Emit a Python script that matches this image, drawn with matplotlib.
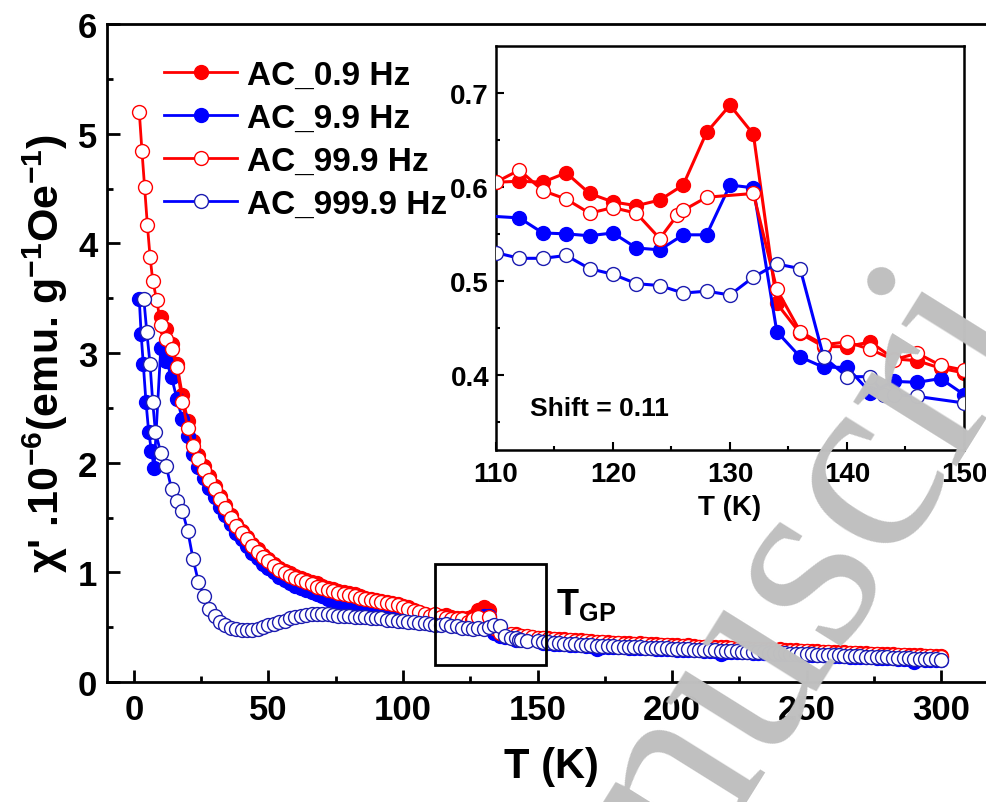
import numpy as np
import matplotlib.pyplot as plt
from matplotlib.patches import Rectangle

plt.rcParams['font.family'] = 'Liberation Sans'
plt.rcParams['font.weight'] = 'bold'
plt.rcParams['axes.labelweight'] = 'bold'
plt.rcParams['mathtext.fontset'] = 'custom'
plt.rcParams['mathtext.rm'] = 'Liberation Sans:bold'
plt.rcParams['mathtext.it'] = 'Liberation Sans:bold'
plt.rcParams['mathtext.bf'] = 'Liberation Sans:bold'

RED = '#ff0000'
BLUE = '#0000ff'
NAVY = '#1c1cb0'

## Data (chi' in 1e-6 emu/g/Oe)
# --- AC 0.9 Hz (filled red)
T_rf_low = np.arange(10, 110, 2)
chi_rf_low = [3.33, 3.22, 3.08, 2.90, 2.62, 2.38, 2.20, 2.07, 1.97, 1.88,
              1.79, 1.70, 1.61, 1.52, 1.44, 1.38, 1.32, 1.26, 1.21, 1.16,
              1.12, 1.08, 1.04, 1.01, 0.99, 0.97, 0.95, 0.93, 0.91, 0.90,
              0.88, 0.86, 0.85, 0.83, 0.82, 0.81, 0.80, 0.78, 0.77, 0.76,
              0.75, 0.74, 0.73, 0.72, 0.71, 0.69, 0.68, 0.66, 0.64, 0.62]
T_rf_mid = np.arange(110, 152, 2)
chi_rf_mid = [0.605, 0.606, 0.605, 0.615, 0.593, 0.584, 0.580, 0.586, 0.602, 0.658,
              0.687, 0.656, 0.476, 0.444, 0.430, 0.430, 0.435, 0.417, 0.415, 0.407,
              0.402]
T_rf_high = np.arange(152, 302, 2)
chi_rf_high = [0.405, 0.400, 0.396, 0.392, 0.388, 0.385, 0.383, 0.380, 0.376, 0.372,
               0.369, 0.366, 0.363, 0.360, 0.357, 0.355, 0.353, 0.351, 0.355, 0.348,
               0.345, 0.343, 0.341, 0.339, 0.337, 0.334, 0.332, 0.336, 0.327, 0.324,
               0.321, 0.319, 0.317, 0.322, 0.315, 0.312, 0.310, 0.308, 0.306, 0.304,
               0.302, 0.300, 0.298, 0.296, 0.298, 0.292, 0.290, 0.288, 0.286, 0.284,
               0.282, 0.280, 0.278, 0.276, 0.274, 0.277, 0.270, 0.268, 0.266, 0.264,
               0.262, 0.260, 0.258, 0.256, 0.254, 0.252, 0.250, 0.248, 0.250, 0.244,
               0.242, 0.240, 0.238, 0.236, 0.234]

# --- AC 9.9 Hz (filled blue)
T_bf_low = np.concatenate([[2, 2.7, 3.5, 4.5, 5.5, 6.5, 7.5], np.arange(10, 110, 2)])
chi_bf_low = [3.49, 3.17, 2.90, 2.55, 2.28, 2.11, 1.95,
              3.05, 2.93, 2.78, 2.58, 2.40, 2.24, 2.08, 1.96, 1.86, 1.77,
              1.69, 1.60, 1.52, 1.44, 1.36, 1.30, 1.24, 1.18, 1.13, 1.08,
              1.04, 1.00, 0.96, 0.93, 0.90, 0.88, 0.86, 0.84, 0.82, 0.80,
              0.78, 0.76, 0.75, 0.73, 0.72, 0.70, 0.69, 0.67, 0.66, 0.65,
              0.64, 0.63, 0.62, 0.61, 0.60, 0.60, 0.59, 0.58, 0.58, 0.57]
T_bf_mid = np.arange(112, 152, 2)
chi_bf_mid = [0.567, 0.551, 0.550, 0.548, 0.551, 0.535, 0.533, 0.549, 0.549, 0.602,
              0.599, 0.446, 0.419, 0.408, 0.408, 0.381, 0.393, 0.392, 0.396, 0.379]
T_bf_high = np.arange(152, 302, 2)
chi_bf_high = [0.360, 0.355, 0.351, 0.347, 0.343, 0.340, 0.337, 0.334, 0.331, 0.328,
               0.300, 0.324, 0.322, 0.320, 0.318, 0.316, 0.314, 0.312, 0.310, 0.308,
               0.306, 0.304, 0.302, 0.300, 0.298, 0.296, 0.294, 0.292, 0.290, 0.288,
               0.286, 0.284, 0.282, 0.255, 0.278, 0.276, 0.274, 0.272, 0.270, 0.268,
               0.266, 0.264, 0.262, 0.260, 0.258, 0.256, 0.254, 0.252, 0.250, 0.248,
               0.246, 0.244, 0.242, 0.240, 0.238, 0.236, 0.234, 0.232, 0.230, 0.228,
               0.226, 0.224, 0.222, 0.220, 0.218, 0.216, 0.214, 0.212, 0.210, 0.185,
               0.206, 0.204, 0.202, 0.200, 0.198]

# --- AC 99.9 Hz (open red)
T_ro_low = np.concatenate([[2, 3, 4, 5, 6, 7, 8.5], np.arange(10, 110, 2)])
chi_ro_low = [5.20, 4.84, 4.51, 4.17, 3.88, 3.66, 3.48,
              3.26, 3.13, 3.04, 2.87, 2.55, 2.32, 2.15, 2.03, 1.93, 1.84,
              1.76, 1.67, 1.59, 1.50, 1.42, 1.36, 1.30, 1.24, 1.19, 1.14,
              1.10, 1.06, 1.02, 0.99, 0.97, 0.95, 0.93, 0.91, 0.89, 0.87,
              0.86, 0.84, 0.83, 0.81, 0.80, 0.79, 0.78, 0.77, 0.76, 0.75,
              0.74, 0.73, 0.72, 0.71, 0.70, 0.68, 0.67, 0.65, 0.64, 0.62]
T_ro_mid = [110, 112, 114, 116, 118, 120, 122, 124, 125.5, 126, 128, 132,
            134, 136, 138, 140, 142, 144, 146, 148, 150]
chi_ro_mid = [0.605, 0.618, 0.596, 0.587, 0.572, 0.578, 0.572, 0.545, 0.570, 0.575, 0.589,
              0.593, 0.491, 0.446, 0.432, 0.435, 0.427, 0.416, 0.423, 0.410, 0.405]
T_ro_high = np.arange(152, 302, 2)
chi_ro_high = [0.400, 0.396, 0.391, 0.387, 0.383, 0.380, 0.377, 0.374, 0.371, 0.368,
               0.365, 0.362, 0.359, 0.356, 0.354, 0.351, 0.349, 0.347, 0.345, 0.343,
               0.341, 0.339, 0.337, 0.335, 0.333, 0.330, 0.327, 0.325, 0.322, 0.319,
               0.317, 0.315, 0.313, 0.311, 0.309, 0.307, 0.305, 0.303, 0.301, 0.299,
               0.297, 0.295, 0.293, 0.291, 0.289, 0.287, 0.285, 0.283, 0.281, 0.279,
               0.277, 0.275, 0.273, 0.271, 0.269, 0.267, 0.265, 0.263, 0.261, 0.259,
               0.257, 0.255, 0.253, 0.251, 0.249, 0.247, 0.245, 0.243, 0.241, 0.239,
               0.237, 0.235, 0.233, 0.231, 0.229]

# --- AC 999.9 Hz (open blue)
T_bo_low = np.concatenate([[3.7, 4.8, 6, 7, 8], np.arange(10, 110, 2)])
chi_bo_low = [3.49, 3.19, 2.90, 2.55, 2.28,
              2.09, 1.97, 1.76, 1.65, 1.56, 1.38, 1.12, 0.91, 0.78, 0.67,
              0.60, 0.55, 0.52, 0.49, 0.48, 0.47, 0.47, 0.47, 0.48, 0.50,
              0.52, 0.53, 0.55, 0.56, 0.58, 0.59, 0.60, 0.61, 0.62, 0.62,
              0.62, 0.62, 0.61, 0.60, 0.60, 0.60, 0.59, 0.59, 0.59, 0.58,
              0.58, 0.58, 0.57, 0.57, 0.56, 0.56, 0.55, 0.55, 0.54, 0.54]
T_bo_mid = [110, 112, 114, 116, 118, 120, 122, 124, 126, 128, 130, 132,
            134, 136, 138, 140, 142, 143.2, 144, 146, 150]
chi_bo_mid = [0.530, 0.524, 0.524, 0.527, 0.513, 0.507, 0.497, 0.495, 0.487, 0.489, 0.485,
              0.504, 0.518, 0.513, 0.419, 0.398, 0.398, 0.379, 0.379, 0.377, 0.370]
T_bo_high = np.arange(152, 302, 2)
chi_bo_high = [0.366, 0.361, 0.357, 0.353, 0.349, 0.346, 0.343, 0.340, 0.337, 0.334,
               0.332, 0.330, 0.328, 0.326, 0.324, 0.322, 0.320, 0.318, 0.316, 0.314,
               0.312, 0.310, 0.308, 0.306, 0.304, 0.302, 0.300, 0.298, 0.296, 0.294,
               0.292, 0.290, 0.288, 0.286, 0.284, 0.282, 0.280, 0.278, 0.276, 0.274,
               0.272, 0.270, 0.268, 0.266, 0.264, 0.262, 0.260, 0.258, 0.256, 0.254,
               0.252, 0.250, 0.248, 0.246, 0.244, 0.242, 0.240, 0.238, 0.236, 0.234,
               0.232, 0.230, 0.228, 0.226, 0.224, 0.222, 0.220, 0.218, 0.216, 0.214,
               0.212, 0.210, 0.208, 0.206, 0.204]

labels = ['AC_0.9 Hz', 'AC_9.9 Hz', 'AC_99.9 Hz', 'AC_999.9 Hz']

series = [
    (np.concatenate([T_rf_low, T_rf_mid, T_rf_high]), np.concatenate([chi_rf_low, chi_rf_mid, chi_rf_high]),
     dict(color=RED, mfc=RED, mec=RED)),
    (np.concatenate([T_bf_low, T_bf_mid, T_bf_high]), np.concatenate([chi_bf_low, chi_bf_mid, chi_bf_high]),
     dict(color=BLUE, mfc=BLUE, mec=BLUE)),
    (np.concatenate([T_ro_low, T_ro_mid, T_ro_high]), np.concatenate([chi_ro_low, chi_ro_mid, chi_ro_high]),
     dict(color=RED, mfc='white', mec=RED)),
    (np.concatenate([T_bo_low, T_bo_mid, T_bo_high]), np.concatenate([chi_bo_low, chi_bo_mid, chi_bo_high]),
     dict(color=BLUE, mfc='white', mec=NAVY)),
]

fig = plt.figure(figsize=(9.87, 8.03), dpi=100)

# Main axes (the right side is cut off in the original)
ax = fig.add_axes([0.1084, 0.1494, 0.8997, 0.8194])
for i, (T, chi, st) in enumerate(series):
    ax.plot(T, chi, '-o', lw=2, ms=10, mew=1.0, label=labels[i], zorder=2 + i, **st)

ax.set_xlim(-10, 320)
ax.set_ylim(0, 6)
ax.set_xticks([0, 50, 100, 150, 200, 250, 300])
ax.set_xticks(np.arange(25, 320, 50), minor=True)
ax.set_yticks([0, 1, 2, 3, 4, 5, 6])
ax.set_yticks(np.arange(0.5, 6, 1), minor=True)
ax.tick_params(which='both', direction='in', top=False, right=False, width=2)
ax.tick_params(which='major', length=9, labelsize=25)
ax.tick_params(axis='x', which='major', pad=8)
ax.tick_params(axis='y', which='major', pad=7)
ax.tick_params(which='minor', length=4.5)
for sp in ax.spines.values():
    sp.set_linewidth(2)
ax.set_xlabel('T (K)', fontsize=30, labelpad=14)
ax.set_ylabel(r"$\chi$' .10$^{-6}$(emu. g$^{-1}$Oe$^{-1}$)", fontsize=31, labelpad=6)

leg = ax.legend(loc='upper left', bbox_to_anchor=(0.0415, 0.976), frameon=False, fontsize=24,
                handlelength=2.2, handletextpad=0.3, labelspacing=0.36, borderaxespad=0.2)

ax.add_patch(Rectangle((112, 0.155), 41, 0.92, fill=False, lw=2, ec='black', zorder=10))
ax.text(157, 0.71, r'T$_{\mathregular{GP}}$', fontsize=26, va='center', ha='left')

# Inset zoom on the transition
axin = fig.add_axes([0.5025, 0.4384, 0.4742, 0.5031])
for i, (T, chi, st) in enumerate(series):
    axin.plot(T, chi, '-o', lw=2.2, ms=10, mew=1.0, zorder=2 + i, **st)
axin.set_xlim(110, 150)
axin.set_ylim(0.32, 0.75)
axin.set_xticks([110, 120, 130, 140, 150])
axin.set_xticks(np.arange(115, 150, 5), minor=True)
axin.set_yticks([0.4, 0.5, 0.6, 0.7])
axin.set_yticks(np.arange(0.35, 0.75, 0.1), minor=True)
axin.tick_params(which='both', direction='in', top=False, right=False, width=1.5)
axin.tick_params(which='major', length=6, labelsize=20)
axin.tick_params(axis='x', which='major', pad=8)
axin.tick_params(axis='y', which='major', pad=5)
axin.tick_params(which='minor', length=3)
for sp in axin.spines.values():
    sp.set_linewidth(1.8)
axin.set_xlabel('T (K)', fontsize=20, labelpad=5)
axin.text(112.9, 0.365, 'Shift = 0.11', fontsize=19, va='center', ha='left')

# journal watermark
fig.text(812 / 987, 1 - 568 / 803, 'nuscri', rotation=58, rotation_mode='anchor',
         ha='center', va='center', fontsize=190, family='Liberation Serif',
         fontweight='normal', color='#c0c0c0', zorder=20)

plt.savefig('out.png', dpi=100)
